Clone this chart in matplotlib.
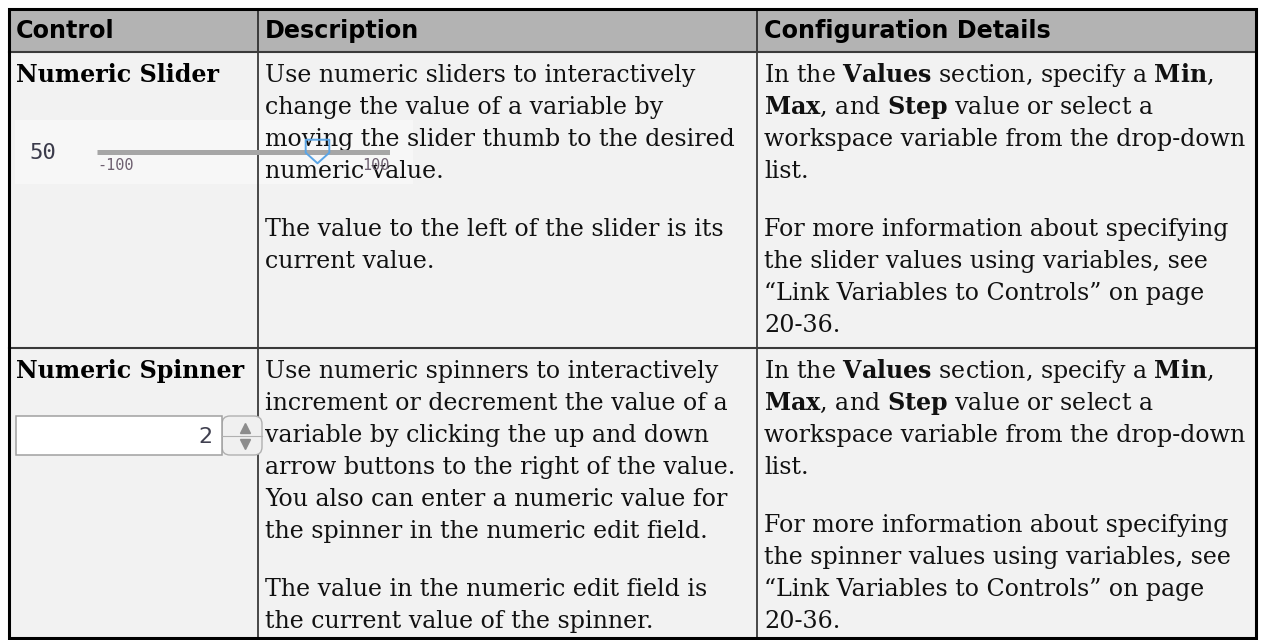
import matplotlib.pyplot as plt
from matplotlib.patches import Rectangle, FancyBboxPatch
from matplotlib.path import Path

plt.rcParams['mathtext.fontset'] = 'dejavuserif'

# table content
columns = ["Control", "Description", "Configuration Details"]
controls = ["Numeric Slider", "Numeric Spinner"]
descriptions = [
    ["Use numeric sliders to interactively",
     "change the value of a variable by",
     "moving the slider thumb to the desired",
     "numeric value.",
     "",
     "The value to the left of the slider is its",
     "current value."],
    ["Use numeric spinners to interactively",
     "increment or decrement the value of a",
     "variable by clicking the up and down",
     "arrow buttons to the right of the value.",
     "You also can enter a numeric value for",
     "the spinner in the numeric edit field.",
     "",
     "The value in the numeric edit field is",
     "the current value of the spinner."],
]
config_details = [
    [r"In the $\mathbf{Values}$ section, specify a $\mathbf{Min}$,",
     r"$\mathbf{Max}$, and $\mathbf{Step}$ value or select a",
     "workspace variable from the drop-down",
     "list.",
     "",
     "For more information about specifying",
     "the slider values using variables, see",
     "\u201cLink Variables to Controls\u201d on page",
     "20-36."],
    [r"In the $\mathbf{Values}$ section, specify a $\mathbf{Min}$,",
     r"$\mathbf{Max}$, and $\mathbf{Step}$ value or select a",
     "workspace variable from the drop-down",
     "list.",
     "",
     "For more information about specifying",
     "the spinner values using variables, see",
     "\u201cLink Variables to Controls\u201d on page",
     "20-36."],
]

# widget values shown in the first column
slider_min, slider_max, slider_value = -100, 100, 50
spinner_value = 2

# layout (pixels)
W, H = 1264, 640
col_edges = [9, 258, 757, 1256]
row_edges = [9, 52, 348, 638]
pad = 7
line_step = 32
para_gap = 26
body_size = 17.1
head_size = 17.2

fig = plt.figure(figsize=(W / 100, H / 100), dpi=100)
ax = fig.add_axes([0, 0, 1, 1])
ax.set_xlim(0, W)
ax.set_ylim(H, 0)
ax.axis('off')

left, right = col_edges[0], col_edges[-1]
top, bottom = row_edges[0], row_edges[-1]

# backgrounds
ax.add_patch(Rectangle((left, top), right - left, row_edges[1] - top,
                       fc='#b3b3b3', ec='none', zorder=0))
ax.add_patch(Rectangle((left, row_edges[1]), right - left, bottom - row_edges[1],
                       fc='#f2f2f2', ec='none', zorder=0))

# grid lines
for x in col_edges[1:-1]:
    ax.plot([x, x], [top, bottom], color='#1a1a1a', lw=1.1, zorder=2)
for y in row_edges[1:-1]:
    ax.plot([left, right], [y, y], color='#3a3a3a', lw=1.5, zorder=2)
ax.add_patch(Rectangle((left, top), right - left, bottom - top,
                       fc='none', ec='black', lw=2.2, zorder=5))

# header
for i, name in enumerate(columns):
    ax.text(col_edges[i] + pad, 38, name, fontsize=head_size,
            fontweight='bold', family='DejaVu Sans', va='baseline', zorder=4)


def draw_lines(x, y0, lines):
    y = y0
    for s in lines:
        if s == "":
            y += para_gap
            continue
        ax.text(x, y, s, fontsize=body_size, family='DejaVu Serif',
                va='baseline', color='#111111', zorder=4)
        y += line_step


for r in range(len(controls)):
    y0 = row_edges[r + 1] + 30
    ax.text(col_edges[0] + pad, y0, controls[r], fontsize=body_size,
            fontweight='bold', family='DejaVu Serif', va='baseline', zorder=4)
    draw_lines(col_edges[1] + pad, y0, descriptions[r])
    draw_lines(col_edges[2] + pad, y0, config_details[r])

# slider widget
ax.add_patch(Rectangle((15, 120), 398, 64, fc='#f7f7f7', ec='none', zorder=1))
ax.text(29, 153, str(slider_value), fontsize=16, family='DejaVu Sans Mono',
        color='#3b3b4b', va='center', ha='left', zorder=4)

sax = fig.add_axes([97 / W, 1 - 167 / H, 293 / W, 30 / H])
sax.set_xlim(slider_min, slider_max)
sax.set_ylim(-1, 1)
sax.axis('off')
sax.plot([slider_min, slider_max], [0, 0], color='#a6a6a6', lw=3.6,
         solid_capstyle='butt', zorder=3)
thumb = Path([(-1, 1), (1, 1), (1, -0.1), (0, -1), (-1, -0.1), (-1, 1)],
             [Path.MOVETO, Path.LINETO, Path.LINETO, Path.LINETO,
              Path.LINETO, Path.CLOSEPOLY])
sax.plot([slider_value], [0.05], marker=thumb, markersize=17,
         mfc='none', mec='#5aa5e6', mew=1.4, clip_on=False, zorder=4)
sax.text(slider_min, -0.87, str(slider_min), fontsize=11,
         family='DejaVu Sans Mono', color='#6e6070', ha='left', va='center',
         clip_on=False)
sax.text(slider_max, -0.87, str(slider_max), fontsize=11,
         family='DejaVu Sans Mono', color='#6e6070', ha='right', va='center',
         clip_on=False)

# spinner widget
ax.add_patch(FancyBboxPatch((222, 416), 40, 39,
                            boxstyle='round,pad=0,rounding_size=8',
                            fc='#f0f0f0', ec='#b0b0b0', lw=1.0, zorder=3))
ax.add_patch(Rectangle((16, 416), 206, 39, fc='white', ec='#a0a0a0',
                       lw=1.1, zorder=3))
ax.plot([222, 262], [436, 436], color='#b0b0b0', lw=0.8, zorder=3)
ax.plot([245], [428], marker='^', markersize=7, color='#8c8c8c', zorder=4)
ax.plot([245], [444], marker='v', markersize=7, color='#8c8c8c', zorder=4)
ax.text(213, 437, str(spinner_value), fontsize=16, family='DejaVu Sans',
        color='#404050', ha='right', va='center', zorder=4)

fig.savefig('out.png', dpi=100, facecolor='white')
